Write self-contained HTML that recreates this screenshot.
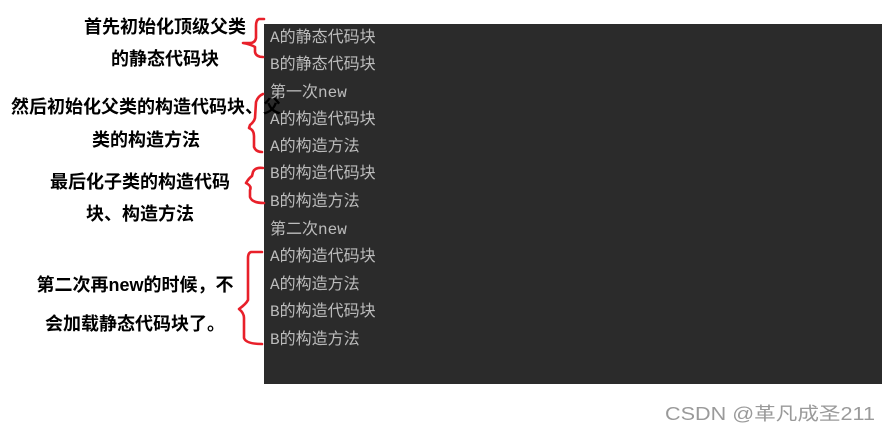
<!DOCTYPE html>
<html><head><meta charset="utf-8"><style>
body{margin:0;width:893px;height:430px;background:#fff;position:relative;overflow:hidden;font-family:"Liberation Sans","Noto Sans CJK SC",sans-serif}
#p{position:absolute;left:264px;top:24px;width:618px;height:360px;background:#2b2b2b}
.l{position:absolute;left:270px;color:#bcbcbc;font-size:16px;font-family:"Liberation Mono","Noto Sans CJK SC",monospace;line-height:20px;white-space:nowrap}
.a{position:absolute;font-weight:bold;font-size:18px;color:#000;white-space:nowrap;line-height:22px;text-align:center}
#w{position:absolute;left:665px;top:400px;font-size:18px;color:#9a9a9a;white-space:nowrap;transform:scaleX(1.2);transform-origin:0 0}
</style></head><body>
<div id="p"></div>
<div class="l" style="top:28px">A的静态代码块</div>
<div class="l" style="top:55px">B的静态代码块</div>
<div class="l" style="top:83px">第一次new</div>
<div class="l" style="top:110px">A的构造代码块</div>
<div class="l" style="top:137px">A的构造方法</div>
<div class="l" style="top:164px">B的构造代码块</div>
<div class="l" style="top:192px">B的构造方法</div>
<div class="l" style="top:220px">第二次new</div>
<div class="l" style="top:247px">A的构造代码块</div>
<div class="l" style="top:275px">A的构造方法</div>
<div class="l" style="top:302px">B的构造代码块</div>
<div class="l" style="top:330px">B的构造方法</div>

<div class="a" style="left:60px;width:210px;top:16px">首先初始化顶级父类</div>
<div class="a" style="left:60px;width:210px;top:48px">的静态代码块</div>
<div class="a" style="left:8px;width:280px;top:96px;text-align:left;padding-left:3px">然后初始化父类的构造代码块、父</div>
<div class="a" style="left:46px;width:200px;top:129px">类的构造方法</div>
<div class="a" style="left:40px;width:200px;top:171px">最后化子类的构造代码</div>
<div class="a" style="left:40px;width:200px;top:203px">块、构造方法</div>
<div class="a" style="left:25px;width:220px;top:274px">第二次再new的时候，不</div>
<div class="a" style="left:25px;width:220px;top:313px">会加载静态代码块了。</div>

<svg style="position:absolute;left:0;top:0" width="893" height="430">
<g fill="none" stroke="#e8202a" stroke-width="2.6" stroke-linecap="round" stroke-linejoin="round">
<path d="M264,19 L259,19 Q256,20 256,26 L256,38 Q255,43 250,43 L243,43 Q250,44 255,47 L255,52 Q256,57 263,57"/>
<path d="M263,94 Q258,96 256,102 L255,118 Q254,122 250,125 L249,128 Q254,130 254,136 L254,147 Q256,152 262,152"/>
<path d="M263,168 Q255,167 253,172 L252,176 Q249,178 246,183 Q252,186 250,190 L250,197 Q252,203 264,203"/>
<path d="M262,252 L251,252 Q248,253 248,258 L248,300 Q246,304 239,309 Q244,313 244,318 L244,338 Q246,344 262,344"/>
</g></svg>
<div id="w">CSDN @革凡成圣211</div>
</body></html>
